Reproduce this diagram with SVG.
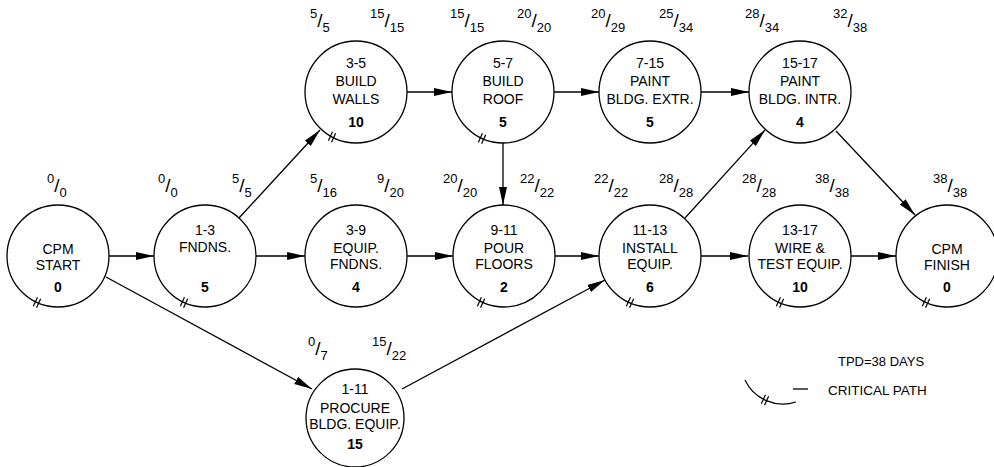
<svg xmlns="http://www.w3.org/2000/svg" xmlns:xlink="http://www.w3.org/1999/xlink" width="994" height="467" viewBox="0 0 994 467">
<style>
text{font-family:"Liberation Sans",Arial,sans-serif;fill:#000}
.t{font-size:14px;text-anchor:middle}
.b{font-size:14px;font-weight:bold;text-anchor:middle}
.l{font-size:13px}
.sl{font-size:19px}
.n circle{fill:#fff;stroke:#000;stroke-width:1.3}
.c line,.c path{stroke:#000;stroke-width:1.3;fill:none}
.mk line{stroke:#000;stroke-width:1.2}
</style>
<defs>
<marker id="ah" markerUnits="userSpaceOnUse" markerWidth="19" markerHeight="9" refX="18" refY="4.5" orient="auto">
<path d="M0,0.5 L18,4.5 L0,8.5 z" fill="#000"/>
</marker>
<g id="cp" class="mk"><line x1="-3.65" y1="3.85" x2="0.45" y2="-5.25"/><line x1="-0.45" y1="5.25" x2="3.65" y2="-3.85"/></g>
</defs>

<g id="connectors" class="c">
<line x1="109" y1="256" x2="154" y2="256" marker-end="url(#ah)"/>
<line x1="106" y1="277" x2="312" y2="389" marker-end="url(#ah)"/>
<line x1="239" y1="218" x2="320" y2="130" marker-end="url(#ah)"/>
<line x1="256" y1="256" x2="305" y2="256" marker-end="url(#ah)"/>
<line x1="407" y1="92" x2="452" y2="92" marker-end="url(#ah)"/>
<line x1="554" y1="92" x2="599" y2="92" marker-end="url(#ah)"/>
<line x1="701" y1="92" x2="749" y2="92" marker-end="url(#ah)"/>
<line x1="503" y1="143" x2="503" y2="205" marker-end="url(#ah)"/>
<line x1="407" y1="256" x2="453" y2="256" marker-end="url(#ah)"/>
<line x1="555" y1="256" x2="599" y2="256" marker-end="url(#ah)"/>
<line x1="402" y1="389" x2="605" y2="280" marker-end="url(#ah)"/>
<line x1="685" y1="218" x2="765" y2="130" marker-end="url(#ah)"/>
<line x1="701" y1="256" x2="748" y2="256" marker-end="url(#ah)"/>
<line x1="851" y1="256" x2="896" y2="256" marker-end="url(#ah)"/>
<line x1="836" y1="131" x2="915" y2="215" marker-end="url(#ah)"/>
</g>

<g id="n-start" class="n"><circle cx="58" cy="256" r="51"/>
<text class="t" x="58" y="254">CPM</text><text class="t" x="58" y="270">START</text><text class="b" x="58" y="292">0</text>
<use xlink:href="#cp" x="37" y="302.5"/></g>

<g id="n-1-3" class="n"><circle cx="205" cy="256" r="51"/>
<text class="t" x="205" y="235">1-3</text><text class="t" x="205" y="252">FNDNS.</text><text class="b" x="205" y="292">5</text>
<use xlink:href="#cp" x="184" y="302.5"/></g>

<g id="n-3-5" class="n"><circle cx="356" cy="92" r="51"/>
<text class="t" x="356" y="68">3-5</text><text class="t" x="356" y="86">BUILD</text><text class="t" x="356" y="104">WALLS</text><text class="b" x="356" y="127">10</text>
<use xlink:href="#cp" x="332" y="137"/></g>

<g id="n-5-7" class="n"><circle cx="503" cy="92" r="51"/>
<text class="t" x="503" y="68">5-7</text><text class="t" x="503" y="86">BUILD</text><text class="t" x="503" y="104">ROOF</text><text class="b" x="503" y="127">5</text>
<use xlink:href="#cp" x="482" y="138.5"/></g>

<g id="n-7-15" class="n"><circle cx="650" cy="92" r="51"/>
<text class="t" x="650" y="68">7-15</text><text class="t" x="650" y="86">PAINT</text><text class="t" x="650" y="104">BLDG. EXTR.</text><text class="b" x="650" y="127">5</text></g>

<g id="n-15-17" class="n"><circle cx="800" cy="92" r="51"/>
<text class="t" x="800" y="68">15-17</text><text class="t" x="800" y="86">PAINT</text><text class="t" x="800" y="104">BLDG. INTR.</text><text class="b" x="800" y="127">4</text></g>

<g id="n-3-9" class="n"><circle cx="356" cy="256" r="51"/>
<text class="t" x="356" y="235">3-9</text><text class="t" x="356" y="253">EQUIP.</text><text class="t" x="356" y="269">FNDNS.</text><text class="b" x="356" y="292">4</text></g>

<g id="n-9-11" class="n"><circle cx="504" cy="256" r="51"/>
<text class="t" x="504" y="235">9-11</text><text class="t" x="504" y="253">POUR</text><text class="t" x="504" y="269">FLOORS</text><text class="b" x="504" y="292">2</text>
<use xlink:href="#cp" x="481" y="302.5"/></g>

<g id="n-11-13" class="n"><circle cx="650" cy="256" r="51"/>
<text class="t" x="650" y="235">11-13</text><text class="t" x="650" y="253">INSTALL</text><text class="t" x="650" y="269">EQUIP.</text><text class="b" x="650" y="292">6</text>
<use xlink:href="#cp" x="630" y="302.5"/></g>

<g id="n-13-17" class="n"><circle cx="800" cy="256" r="51"/>
<text class="t" x="800" y="235">13-17</text><text class="t" x="800" y="253">WIRE &amp;</text><text class="t" x="800" y="269">TEST EQUIP.</text><text class="b" x="800" y="292">10</text>
<use xlink:href="#cp" x="780" y="302.5"/></g>

<g id="n-finish" class="n"><circle cx="947" cy="256" r="51"/>
<text class="t" x="947" y="254">CPM</text><text class="t" x="947" y="270">FINISH</text><text class="b" x="947" y="292">0</text>
<use xlink:href="#cp" x="926" y="302.5"/></g>

<g id="n-1-11" class="n"><circle cx="355" cy="418" r="49"/>
<text class="t" x="355" y="394">1-11</text><text class="t" x="355" y="413">PROCURE</text><text class="t" x="355" y="429">BLDG. EQUIP.</text><text class="b" x="355" y="449">15</text></g>

<g id="times">
<text class="l" x="310" y="18">5<tspan class="sl" dy="9">/</tspan><tspan dy="5">5</tspan></text>
<text class="l" x="370" y="18">15<tspan class="sl" dy="9">/</tspan><tspan dy="5">15</tspan></text>
<text class="l" x="450" y="18">15<tspan class="sl" dy="9">/</tspan><tspan dy="5">15</tspan></text>
<text class="l" x="517" y="18">20<tspan class="sl" dy="9">/</tspan><tspan dy="5">20</tspan></text>
<text class="l" x="591" y="18">20<tspan class="sl" dy="9">/</tspan><tspan dy="5">29</tspan></text>
<text class="l" x="659" y="18">25<tspan class="sl" dy="9">/</tspan><tspan dy="5">34</tspan></text>
<text class="l" x="745" y="18">28<tspan class="sl" dy="9">/</tspan><tspan dy="5">34</tspan></text>
<text class="l" x="833" y="18">32<tspan class="sl" dy="9">/</tspan><tspan dy="5">38</tspan></text>

<text class="l" x="47" y="183">0<tspan class="sl" dy="9">/</tspan><tspan dy="5">0</tspan></text>
<text class="l" x="158" y="183">0<tspan class="sl" dy="9">/</tspan><tspan dy="5">0</tspan></text>
<text class="l" x="232" y="183">5<tspan class="sl" dy="9">/</tspan><tspan dy="5">5</tspan></text>
<text class="l" x="310" y="183">5<tspan class="sl" dy="9">/</tspan><tspan dy="5">16</tspan></text>
<text class="l" x="377" y="183">9<tspan class="sl" dy="9">/</tspan><tspan dy="5">20</tspan></text>
<text class="l" x="443" y="183">20<tspan class="sl" dy="9">/</tspan><tspan dy="5">20</tspan></text>
<text class="l" x="520" y="183">22<tspan class="sl" dy="9">/</tspan><tspan dy="5">22</tspan></text>
<text class="l" x="594" y="183">22<tspan class="sl" dy="9">/</tspan><tspan dy="5">22</tspan></text>
<text class="l" x="659" y="183">28<tspan class="sl" dy="9">/</tspan><tspan dy="5">28</tspan></text>
<text class="l" x="742" y="183">28<tspan class="sl" dy="9">/</tspan><tspan dy="5">28</tspan></text>
<text class="l" x="815" y="183">38<tspan class="sl" dy="9">/</tspan><tspan dy="5">38</tspan></text>
<text class="l" x="933" y="183">38<tspan class="sl" dy="9">/</tspan><tspan dy="5">38</tspan></text>

<text class="l" x="308" y="346">0<tspan class="sl" dy="9">/</tspan><tspan dy="5">7</tspan></text>
<text class="l" x="372" y="346">15<tspan class="sl" dy="9">/</tspan><tspan dy="5">22</tspan></text>
</g>

<g id="legend">
<text x="838" y="366" style="font-size:13px">TPD=38 DAYS</text>
<path class="c" d="M745,380 A42,42 0 0 0 796,402" style="stroke:#000;stroke-width:1.2;fill:none"/>
<use xlink:href="#cp" x="765" y="400"/>
<line x1="793" y1="389" x2="808" y2="389" style="stroke:#000;stroke-width:1.3"/>
<text x="828" y="395" style="font-size:13.5px">CRITICAL PATH</text>
</g>
</svg>
